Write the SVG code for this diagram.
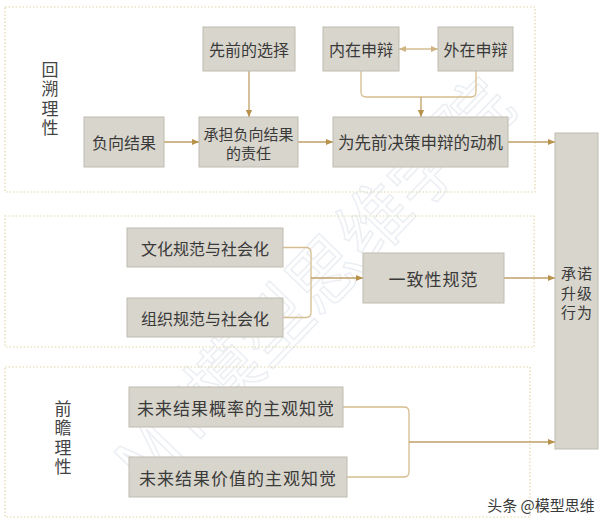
<svg xmlns="http://www.w3.org/2000/svg" width="610" height="525" viewBox="0 0 610 525">
<defs>
<style>
.grp{fill:none;stroke:#e2d6a8;stroke-width:1.2;stroke-dasharray:1.5 2}
.box{fill:#d8d5cc;stroke:#bfbbb1;stroke-width:1}
.t{font-family:"Noto Sans CJK SC","Noto Sans",sans-serif;fill:#3a3a3a;text-anchor:middle;dominant-baseline:central}
.lbl{font-family:"Noto Sans CJK SC","Noto Sans",sans-serif;fill:#444;text-anchor:middle;font-size:17px;writing-mode:vertical-rl;letter-spacing:2.5px}
.c{fill:none;stroke:#bf9f65;stroke-width:1.3}
.c2{fill:none;stroke:#d6bd8f;stroke-width:1.3}
</style>
<marker id="ah" viewBox="0 0 8 8" refX="8" refY="4" markerWidth="7" markerHeight="7" markerUnits="userSpaceOnUse" orient="auto">
<path d="M0,0.5 L8,4 L0,7.5 Z" fill="#b8914a"/>
</marker>
<marker id="ah2" viewBox="0 0 8 8" refX="8" refY="4" markerWidth="7" markerHeight="7" markerUnits="userSpaceOnUse" orient="auto-start-reverse">
<path d="M0,0.5 L8,4 L0,7.5 Z" fill="#cfb383"/>
</marker>
</defs>
<rect width="610" height="525" fill="#ffffff"/>

<g id="watermark" opacity="0.55">
<text x="310" y="280" transform="rotate(-46 310 280)" font-family="Noto Sans CJK SC, sans-serif" font-size="72" fill="none" stroke="#dce3eb" stroke-width="1.5" text-anchor="middle" dominant-baseline="central">MT模型思维学院</text>
</g>

<g id="groups">
<rect class="grp" x="5" y="7" width="530" height="185"/>
<rect class="grp" x="5" y="216" width="529" height="131"/>
<rect class="grp" x="5" y="367" width="525" height="150"/>
</g>

<g id="group-labels">
<text class="lbl" x="50" y="100">回溯理性</text>
<text class="lbl" x="63" y="439">前瞻理性</text>
</g>

<g id="connectors">
<line class="c" x1="164" y1="142" x2="199" y2="142" marker-end="url(#ah)"/>
<line class="c" x1="249" y1="71" x2="249" y2="117" marker-end="url(#ah)"/>
<line class="c" x1="298" y1="142" x2="333" y2="142" marker-end="url(#ah)"/>
<line class="c" x1="508" y1="142" x2="555" y2="142" marker-end="url(#ah)"/>
<line class="c2" x1="399" y1="49" x2="438" y2="49" marker-start="url(#ah2)" marker-end="url(#ah2)"/>
<path class="c2" d="M361,71 V92 Q361,97 366,97 H471 Q476,97 476,92 V71"/>
<line class="c" x1="421" y1="97" x2="421" y2="117" marker-end="url(#ah)"/>
<path class="c2" d="M283,247.5 H306 Q311,247.5 311,252.5 V312.5 Q311,317.5 306,317.5 H283"/>
<line class="c" x1="311" y1="278" x2="363" y2="278" marker-end="url(#ah)"/>
<line class="c" x1="504" y1="278" x2="555" y2="278" marker-end="url(#ah)"/>
<path class="c2" d="M343,407 H404 Q409,407 409,412 V472 Q409,477 404,477 H347"/>
<line class="c" x1="409" y1="442" x2="555" y2="442" marker-end="url(#ah)"/>
</g>

<g id="n-xianqian"><rect class="box" x="203" y="27" width="92" height="44"/><text class="t" x="249" y="49" font-size="16">先前的选择</text></g>
<g id="n-neizai"><rect class="box" x="323" y="27" width="76" height="44"/><text class="t" x="361" y="49" font-size="16">内在申辩</text></g>
<g id="n-waizai"><rect class="box" x="438" y="27" width="75" height="44"/><text class="t" x="475.5" y="49" font-size="16">外在申辩</text></g>
<g id="n-fuxiang"><rect class="box" x="84" y="117" width="80" height="50"/><text class="t" x="124" y="142" font-size="16">负向结果</text></g>
<g id="n-chengdan"><rect class="box" x="199" y="117" width="99" height="50"/><text class="t" font-size="15"><tspan x="248.5" y="133">承担负向结果</tspan><tspan x="248.5" y="152">的责任</tspan></text></g>
<g id="n-dongji"><rect class="box" x="333" y="117" width="175" height="50"/><text class="t" x="420.5" y="142" font-size="16.5">为先前决策申辩的动机</text></g>
<g id="n-wenhua"><rect class="box" x="127" y="228" width="156" height="39"/><text class="t" x="205" y="247.5" font-size="16">文化规范与社会化</text></g>
<g id="n-zuzhi"><rect class="box" x="127" y="298" width="156" height="39"/><text class="t" x="205" y="317.5" font-size="16">组织规范与社会化</text></g>
<g id="n-yizhi"><rect class="box" x="363" y="253" width="141" height="50"/><text class="t" x="433.5" y="278" font-size="17" letter-spacing="1">一致性规范</text></g>
<g id="n-gailv"><rect class="box" x="129" y="387" width="214" height="40"/><text class="t" x="236" y="407" font-size="17" letter-spacing="1">未来结果概率的主观知觉</text></g>
<g id="n-jiazhi"><rect class="box" x="129" y="457" width="218" height="40"/><text class="t" x="238" y="477" font-size="17" letter-spacing="1">未来结果价值的主观知觉</text></g>
<g id="n-chengnuo"><rect class="box" x="555" y="133" width="43" height="316"/>
<text class="t" font-size="15" letter-spacing="1"><tspan x="577" y="272">承诺</tspan><tspan x="577" y="291.5">升级</tspan><tspan x="577" y="311">行为</tspan></text></g>

<text x="541" y="504" font-family="Noto Sans CJK SC, sans-serif" font-size="15" fill="#3a3a3a" text-anchor="middle" dominant-baseline="central">头条 @模型思维</text>
</svg>
